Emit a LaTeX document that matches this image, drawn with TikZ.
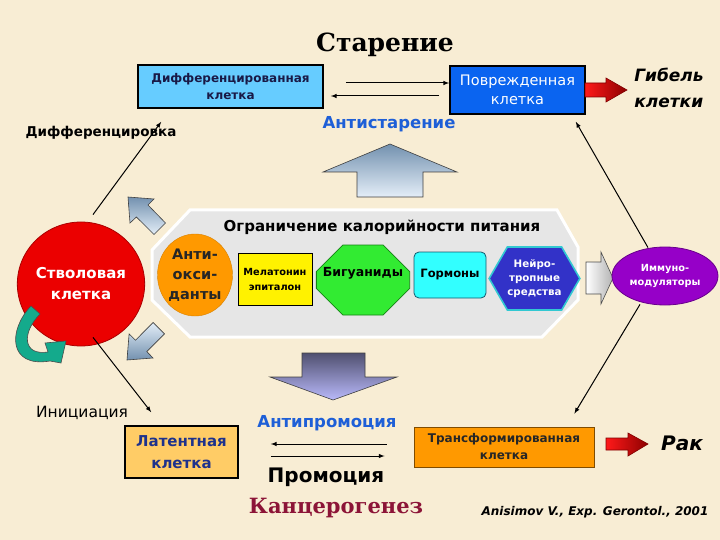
\documentclass[tikz,border=0pt]{standalone}
\usepackage{fontspec}
\setmainfont{DejaVu Sans}
\newfontfamily\titlefont{DejaVu Serif}
\usetikzlibrary{shapes.geometric,shapes.misc,shapes.symbols}
\usepackage{xcolor}

\definecolor{paper}{RGB}{248,237,212}
\definecolor{diffblue}{RGB}{102,204,255}
\definecolor{dmgblue}{RGB}{10,100,240}
\definecolor{navytext}{RGB}{25,25,70}
\definecolor{antiblue}{RGB}{30,95,215}
\definecolor{stemred}{RGB}{235,0,0}
\definecolor{stemdark}{RGB}{170,0,0}
\definecolor{panel}{RGB}{230,230,230}
\definecolor{oxorange}{RGB}{255,153,0}
\definecolor{biggreen}{RGB}{50,235,50}
\definecolor{bigdark}{RGB}{20,130,20}
\definecolor{hormcyan}{RGB}{50,255,255}
\definecolor{hormdark}{RGB}{20,90,110}
\definecolor{neuroblue}{RGB}{50,50,200}
\definecolor{neuroedge}{RGB}{50,200,210}
\definecolor{immpurple}{RGB}{150,0,200}
\definecolor{latent}{RGB}{255,204,102}
\definecolor{latenttext}{RGB}{30,50,140}
\definecolor{carcino}{RGB}{140,20,55}
\definecolor{tealarr}{RGB}{20,170,140}
\definecolor{steel}{RGB}{115,145,175}
\definecolor{steellight}{RGB}{228,238,248}
\definecolor{slate}{RGB}{80,80,112}
\definecolor{lavender}{RGB}{185,185,250}

\tikzset{
  cellbox/.style={draw,line width=1.6pt,inner sep=0pt,align=center,
    font=\bfseries\fontsize{12}{17}\selectfont},
  drug/.style={inner sep=0pt,align=center,font=\bfseries\fontsize{11}{14}\selectfont},
  thinarr/.style={->,>=latex,line width=1pt},
  redarrow/.style={left color=red!90!white,right color=red!55!black,draw=red!50!black,line width=0.6pt},
  bluearrow/.style={draw=black!75,line width=0.6pt}
}

\begin{document}
\begin{tikzpicture}[x=1pt,y=-1pt]
\useasboundingbox (0,0) rectangle (720,540);
\fill[paper] (0,0) rectangle (720,540);

% ageing row
\node[font=\titlefont\bfseries\fontsize{25}{28}\selectfont] (ageing) at (385,45) {Старение};
\node[cellbox,fill=diffblue,text=navytext,minimum width=185pt,minimum height=43pt] (diff) at (230.5,86.5) {Дифференцированная\\клетка};
\node[cellbox,fill=dmgblue,text=white,font=\fontsize{14.5}{19}\selectfont,minimum width=135pt,minimum height=48pt] (dmg) at (517.5,90) {Поврежденная\\клетка};
\node[align=left,font=\bfseries\itshape\fontsize{17}{26}\selectfont] (death) at (669,88) {Гибель\\клетки};
\shadedraw[redarrow] (585,83) -- (606,83) -- (606,78) -- (627,90) -- (606,102) -- (606,97) -- (585,97) -- cycle;
\draw[thinarr] ([xshift=22pt,yshift=3.5pt]diff.east) -- ([yshift=7pt]dmg.west);
\draw[thinarr] ([xshift=-10pt,yshift=-6pt]dmg.west) -- ([xshift=7pt,yshift=-9.5pt]diff.east);
\node[text=antiblue,font=\bfseries\fontsize{16.5}{20}\selectfont] (antiage) at (389,124) {Антистарение};
\shadedraw[bluearrow,top color=steel,bottom color=steellight]
  (390,144) -- (457,172) -- (423,172) -- (423,197) -- (357,197) -- (357,172) -- (323,172) -- cycle;

% stem cell
\node[font=\bfseries\fontsize{13.5}{16}\selectfont] (difflbl) at (101,133) {Дифференцировка};
\node[ellipse,draw=stemdark,fill=stemred,text=white,line width=0.8pt,inner sep=0pt,align=center,
  minimum width=104pt,minimum height=124pt,font=\bfseries\fontsize{15}{21}\selectfont] (stem) at (81,284) {Стволовая\\клетка};
\filldraw[fill=tealarr,draw=black!70,line width=0.6pt]
  (31,306) .. controls (8,330) and (8,368) .. (50,361) -- (61,363) -- (66,341) -- (45,343) -- (48,352)
  .. controls (22,356) and (22,332) .. (40,314) -- cycle;
\draw[thinarr] ([xshift=12pt,yshift=7pt]stem.north) -- ([xshift=24pt,yshift=-13pt]diff.south west);
\node[font=\fontsize{15.5}{18}\selectfont] (initlbl) at (82,413) {Инициация};

% block arrows at the panel
\shadedraw[bluearrow,top color=steel,bottom color=steellight]
  (128,197) -- (154,199) -- (148,205) -- (165.5,223) -- (154,234.5) -- (136.4,217) -- (130,223) -- cycle;
\shadedraw[bluearrow,top color=steellight,bottom color=steel]
  (127,360) -- (153,358) -- (146.8,351.6) -- (164.5,333.9) -- (153.1,322.5) -- (135.5,340.2) -- (129.1,333.9) -- cycle;

% panel
\draw[white,line width=3pt,fill=panel] (190,210) -- (557,210) -- (578,247) -- (578,300) -- (542,337) -- (190,337) -- (152,300) -- (152,250) -- cycle;
\node[font=\bfseries\fontsize{15}{18}\selectfont] (calor) at (382,227) {Ограничение калорийности питания};
\node[drug,ellipse,fill=oxorange,draw=oxorange!85!black,minimum width=66pt,minimum height=82pt,
  font=\bfseries\fontsize{14.5}{20}\selectfont,text=black!85] (oxid) at (195,275) {Анти-\\окси-\\данты};
\node[drug,rectangle,fill=yellow,draw=black,line width=0.8pt,minimum width=74pt,minimum height=52pt,
  font=\bfseries\fontsize{9.8}{15}\selectfont] (melat) at (275,279) {Мелатонин\\эпиталон};
\node[drug,chamfered rectangle,chamfered rectangle xsep=14pt,chamfered rectangle ysep=14pt,inner xsep=-6pt,
  fill=biggreen,draw=bigdark,line width=0.8pt,minimum width=75pt,minimum height=70pt,
  font=\bfseries\fontsize{12.5}{15}\selectfont,text depth=16pt] (bigu) at (363,280) {Бигуаниды};
\node[drug,rounded corners=5pt,fill=hormcyan,draw=hormdark,line width=0.8pt,minimum width=72pt,minimum height=46pt,
  font=\bfseries\fontsize{11.5}{14}\selectfont] (horm) at (450,275) {Гормоны};
\node[drug,signal,signal to=east and west,signal pointer angle=120,fill=neuroblue,draw=neuroedge,line width=1.6pt,
  minimum width=85pt,minimum height=63pt,text=white,font=\bfseries\fontsize{10.3}{14}\selectfont] (neuro) at (534.5,278.5) {Нейро-\\тропные\\средства};
\shadedraw[draw=black!70,line width=0.6pt,left color=white,right color=black!30]
  (586,262) -- (601,262) -- (601,252) -- (613,278) -- (601,304) -- (601,294) -- (586,294) -- cycle;
\node[drug,ellipse,fill=immpurple,draw=immpurple!70!black,line width=0.8pt,minimum width=106pt,minimum height=58pt,
  text=white,font=\bfseries\fontsize{9.8}{14}\selectfont] (immuno) at (665,276) {Иммуно-\\модуляторы};
\draw[thinarr] ([xshift=-17pt,yshift=-1pt]immuno.north) -- ([xshift=-10pt,yshift=-7pt]dmg.south east);

% cancer row
\shadedraw[bluearrow,top color=slate,bottom color=lavender]
  (302,353) -- (365,353) -- (365,377) -- (397,377) -- (333,400) -- (270,377) -- (302,377) -- cycle;
\node[text=antiblue,font=\bfseries\fontsize{16.5}{20}\selectfont] (antiprom) at (327,423) {Антипромоция};
\node[cellbox,fill=latent,text=latenttext,minimum width=113pt,minimum height=52pt,
  font=\bfseries\fontsize{15}{22}\selectfont] (lat) at (181.5,452) {Латентная\\клетка};
\node[cellbox,fill=oxorange,draw=oxorange!50!black,line width=0.8pt,text=black!85,minimum width=180pt,minimum height=40pt,
  font=\bfseries\fontsize{12}{17}\selectfont] (trans) at (504,447) {Трансформированная\\клетка};
\draw[thinarr] ([xshift=-27pt,yshift=3pt]trans.west) -- ([xshift=32pt,yshift=8pt]lat.east);
\draw[thinarr] ([xshift=32pt,yshift=-4pt]lat.east) -- ([xshift=-29pt,yshift=-9pt]trans.west);
\draw[thinarr] ([xshift=12pt,yshift=9pt]stem.south) -- ([xshift=27pt,yshift=13pt]lat.north west);
\draw[thinarr] ([xshift=-25pt,yshift=1pt]immuno.south) -- ([xshift=-20pt,yshift=13pt]trans.north east);
\node[font=\bfseries\fontsize{20}{24}\selectfont] (prom) at (326,477) {Промоция};
\node[text=carcino,font=\titlefont\bfseries\fontsize{21}{24}\selectfont] (carc) at (336,508) {Канцерогенез};
\shadedraw[redarrow] (606,438) -- (628,438) -- (628,433) -- (648,444) -- (628,456) -- (628,450) -- (606,450) -- cycle;
\node[font=\bfseries\itshape\fontsize{20}{24}\selectfont] (cancer) at (682,443) {Рак};
\node[font=\bfseries\itshape\fontsize{12}{14}\selectfont] (ref) at (595,512) {Anisimov V., Exp. Gerontol., 2001};
\end{tikzpicture}
\end{document}
